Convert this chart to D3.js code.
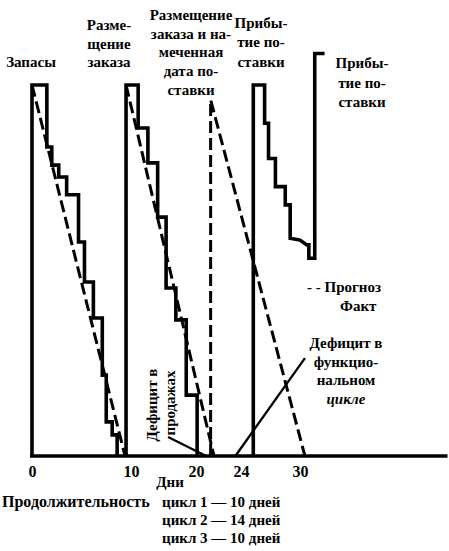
<!DOCTYPE html>
<html><head><meta charset="utf-8">
<script src="https://cdn.jsdelivr.net/npm/d3@7"></script>
<style>
html,body{margin:0;padding:0;background:#fff;}
</style></head>
<body>
<script>
// ---- data (days, inventory level) ----
const tickDays = [0, 10, 20, 24, 30];
const tickLabels = ["0", "10", "20", "24", "30"];
const factCycle1 = [[0,0],[0,100],[1.5,100],[1.5,83.3],[2.0,83.3],[2.0,78.4],[2.7,78.4],[2.7,75.2],[3.5,75.2],[3.5,70.4],[4.7,70.4],[4.7,57.7],[5.3,57.7],[5.3,46.9],[6.2,46.9],[6.2,37.2],[7.1,37.2],[7.1,21.8],[7.5,21.8],[7.5,9.2],[8.1,9.2],[8.1,5.7],[8.6,5.7],[8.6,0]];
const factCycle2 = [[9.5,0],[9.5,100],[11.1,100],[11.1,88.4],[12.6,88.4],[12.6,79.0],[14.1,79.0],[14.1,64.4],[15.4,64.4],[15.4,45.3],[16.9,45.3],[16.9,36.7],[18.5,36.7],[18.5,16.4],[20.1,16.4],[20.1,0]];
const factCycle3 = [[25.25,0],[25.25,100],[26.4,100],[26.4,89.7],[26.8,89.7],[26.8,80.2],[27.5,80.2],[27.5,72.6],[28.5,72.6],[28.5,67.7],[29.0,67.7],[29.0,58.7],[30.0,58.2],[30.7,56.9],[30.9,56.9],[30.9,53.3],[31.5,53.3],[31.5,108.5],[32.5,108.5]];
const forecastCycle1 = [[0,100],[9.4,0]];
const forecastCycle2 = [[9.5,100],[21.6,0]];
const plannedDelivery = [[21.3,0],[21.3,96],[30.5,0]];
const pointerSales = [[15.7,5.1],[20.9,0]];
const pointerCycle = [[23.5,0],[30.5,26.4]];
const durationLines = ["цикл 1 — 10 дней", "цикл 2 — 14 дней", "цикл 3 — 10 дней"];

const W = 449, H = 551;
const FONT = "'Liberation Serif', 'DejaVu Serif', serif";
const svg = d3.select("body").append("svg").attr("width", W).attr("height", H)
  .attr("font-family", FONT).attr("font-weight", "bold");

// schematic (non-uniform) day axis
const x = d3.scaleLinear().domain(tickDays).range([32, 131, 196, 241, 300]);
const y = d3.scaleLinear().domain([0, 100]).range([456, 85]);
const line = d3.line().x(d => x(d[0])).y(d => y(d[1]));

// baseline
svg.append("path").attr("d", line([[-0.2,0],[45,0]]))
  .attr("stroke", "#000").attr("stroke-width", 3.5).attr("fill", "none");

// actual inventory
[factCycle1, factCycle2, factCycle3].forEach(c => {
  svg.append("path").attr("d", line(c)).attr("fill", "none")
    .attr("stroke", "#000").attr("stroke-width", 3.6).attr("stroke-linejoin", "miter");
});

// forecasts (dashed)
[forecastCycle1, forecastCycle2, plannedDelivery].forEach(c => {
  svg.append("path").attr("d", line(c)).attr("fill", "none")
    .attr("stroke", "#000").attr("stroke-width", 3).attr("stroke-dasharray", "12,5");
});

// pointer lines
[pointerSales, pointerCycle].forEach(c => {
  svg.append("path").attr("d", line(c)).attr("fill", "none")
    .attr("stroke", "#000").attr("stroke-width", 2.3);
});

// axis ticks
const axis = d3.axisBottom(x).tickValues(tickDays).tickFormat((d, i) => tickLabels[i]).tickSize(0).tickPadding(0);
const ag = svg.append("g").attr("transform", "translate(0,466)").call(axis);
ag.select(".domain").remove();
ag.attr("font-family", FONT).attr("font-size", 16);
ag.selectAll("text").attr("font-weight", "bold").attr("fill", "#000");

function block(lines, cx, y0, dy, size, anchor, italicIdx) {
  const t = svg.append("text").attr("font-size", size).attr("text-anchor", anchor || "middle");
  lines.forEach((s, i) => {
    t.append("tspan").attr("x", cx).attr("y", y0 + i * dy).text(s)
      .attr("font-style", italicIdx === i ? "italic" : null);
  });
  return t;
}
block(["Запасы"], 31, 67, 0, 15);
block(["Разме-", "щение", "заказа"], 109, 30, 18.5, 15);
block(["Размещение", "заказа и на-", "меченная", "дата по-", "ставки"], 191, 20, 18.7, 15);
block(["Прибы-", "тие по-", "ставки"], 261, 28, 19.3, 15);
block(["Прибы-", "тие по-", "ставки"], 362, 68, 19.5, 15);
block(["- - Прогноз"], 307, 292, 0, 15, "start");
block(["Факт"], 340, 311, 0, 15, "start");
block(["Дефицит в", "функцио-", "нальном", "цикле"], 346, 348, 18.5, 15, "middle", 3);

svg.append("text").attr("font-size", 15).attr("text-anchor", "middle")
  .attr("transform", "translate(157,405) rotate(-90)").text("Дефицит в");
svg.append("text").attr("font-size", 15).attr("text-anchor", "middle")
  .attr("transform", "translate(175,403) rotate(-90)").text("продажах");

block(["Дни"], 170, 487, 0, 15);
block(["Продолжительность"], 2, 507, 0, 16, "start");
block(durationLines, 162, 507, 18, 15, "start");
</script>
</body></html>
